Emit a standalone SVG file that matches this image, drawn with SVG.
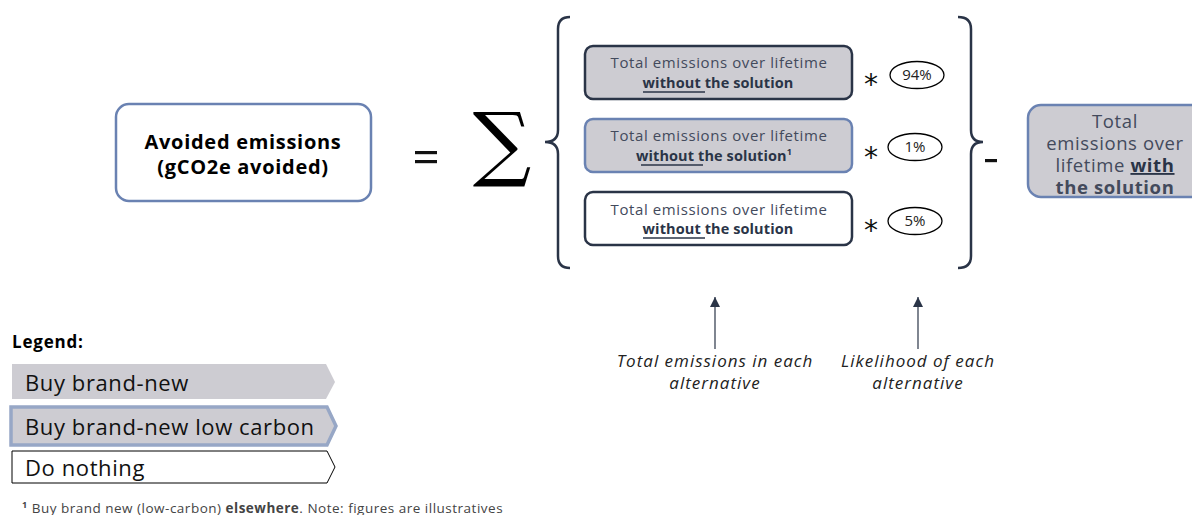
<svg xmlns="http://www.w3.org/2000/svg" width="1192" height="515" viewBox="0 0 1192 515">
<defs>
<style>
.t{font-family:"Open Sans","Liberation Sans",sans-serif;}
.box{fill:#cdccd2;stroke:#2a3447;stroke-width:2.5;}
.boxb{fill:#cdccd2;stroke:#6a82b2;stroke-width:2.5;}
.boxw{fill:#ffffff;stroke:#2a3447;stroke-width:2.5;}
.l1{font-family:"Open Sans","Liberation Sans",sans-serif;font-size:15px;letter-spacing:0.6px;fill:#434a5c;text-anchor:middle;}
.l2{font-family:"Open Sans","Liberation Sans",sans-serif;font-size:14.5px;letter-spacing:0.1px;font-weight:bold;fill:#2a3447;text-anchor:middle;}
.ul{stroke:#2a3447;stroke-width:1.5;}
.ell{fill:#fff;stroke:#000;stroke-width:1.3;}
.pct{font-family:"Open Sans","Liberation Sans",sans-serif;font-size:15px;fill:#222;text-anchor:middle;}
.star{font-family:"DejaVu Sans",sans-serif;font-size:28px;fill:#111;text-anchor:middle;}
.brace{fill:none;stroke:#2a3447;stroke-width:2.5;}
.cap{font-family:"Open Sans","Liberation Sans",sans-serif;font-size:17px;letter-spacing:1px;font-style:italic;fill:#222;text-anchor:middle;}
.leg{font-family:"Open Sans","Liberation Sans",sans-serif;font-size:22px;letter-spacing:0.6px;fill:#111;}
.rb{font-family:"Open Sans","Liberation Sans",sans-serif;font-size:18.5px;letter-spacing:0.6px;fill:#434a5c;text-anchor:middle;}
</style>
<marker id="ah" viewBox="0 0 10 10" refX="10" refY="5" markerWidth="10" markerHeight="10" markerUnits="userSpaceOnUse" orient="auto">
<path d="M0,0 L10,5 L0,10 Z" fill="#2a3447"/>
</marker>
</defs>
<rect width="1192" height="515" fill="#ffffff"/>

<g id="avoided">
<rect x="116" y="104" width="255" height="97" rx="13" fill="#fff" stroke="#6a82b2" stroke-width="2.5"/>
<text class="t" x="243" y="149" font-size="20" letter-spacing="0.7" font-weight="bold" fill="#000" text-anchor="middle">Avoided emissions</text>
<text class="t" x="243" y="174" font-size="20" letter-spacing="0.7" font-weight="bold" fill="#000" text-anchor="middle">(gCO2e avoided)</text>
</g>

<g id="equals">
<rect x="415" y="151" width="22" height="3.2" fill="#111"/>
<rect x="415" y="160" width="22" height="3.2" fill="#111"/>
</g>

<g id="sum">
<text x="502" y="171" font-family="DejaVu Serif, serif" font-size="82" font-weight="200" text-anchor="middle" fill="#000">∑</text>
</g>

<g id="braces">
<path class="brace" d="M570,17 Q558,17 558,29 L558,130 Q558,142 545,142 Q558,142 558,154 L558,256 Q558,268 570,268"/>
<path class="brace" d="M958,17 Q971,17 971,29 L971,130 Q971,142 983,142 Q971,142 971,154 L971,256 Q971,268 958,268"/>
</g>

<g id="alt1">
<rect class="box" x="585" y="46" width="267" height="53" rx="8"/>
<text class="l1" x="719" y="68">Total emissions over lifetime</text>
<text class="l2" x="718" y="88">without the solution</text>
<line class="ul" x1="643" y1="92" x2="705" y2="92"/>
<text class="star" x="871" y="94">*</text>
<ellipse class="ell" cx="917" cy="75" rx="27" ry="13.5"/>
<text class="pct" x="917" y="80">94%</text>
</g>

<g id="alt2">
<rect class="boxb" x="585" y="119" width="267" height="53" rx="8"/>
<text class="l1" x="719" y="141">Total emissions over lifetime</text>
<text class="l2" x="714" y="161">without the solution<tspan font-size="9" dy="-6">1</tspan></text>
<line class="ul" x1="641" y1="165" x2="703" y2="165"/>
<text class="star" x="871" y="167">*</text>
<ellipse class="ell" cx="915" cy="147" rx="27" ry="13.5"/>
<text class="pct" x="915" y="152">1%</text>
</g>

<g id="alt3">
<rect class="boxw" x="585" y="192" width="267" height="53" rx="8"/>
<text class="l1" x="719" y="215">Total emissions over lifetime</text>
<text class="l2" x="718" y="234">without the solution</text>
<line class="ul" x1="643" y1="238" x2="705" y2="238"/>
<text class="star" x="871" y="240">*</text>
<ellipse class="ell" cx="915" cy="221" rx="27" ry="13.5"/>
<text class="pct" x="915" y="226">5%</text>
</g>

<g id="minus">
<rect x="985" y="159" width="12" height="3.2" fill="#111"/>
</g>

<g id="with-solution">
<rect class="boxb" x="1028" y="105" width="176" height="92" rx="13"/>
<text class="rb" x="1115" y="128">Total</text>
<text class="rb" x="1115" y="150">emissions over</text>
<text class="rb" x="1115" y="172">lifetime <tspan font-weight="bold" fill="#2a3447" text-decoration="underline">with</tspan></text>
<text class="rb" x="1115" y="194" font-weight="bold" fill="#2a3447">the solution</text>
</g>

<g id="connectors">
<line x1="715" y1="349" x2="715" y2="297" stroke="#2a3447" stroke-width="1.2" marker-end="url(#ah)"/>
<line x1="918" y1="349" x2="918" y2="297" stroke="#2a3447" stroke-width="1.2" marker-end="url(#ah)"/>
</g>

<g id="caption1">
<text class="cap" x="715" y="367">Total emissions in each</text>
<text class="cap" x="715" y="389">alternative</text>
</g>
<g id="caption2">
<text class="cap" x="918" y="367">Likelihood of each</text>
<text class="cap" x="918" y="389">alternative</text>
</g>

<g id="legend">
<text class="t" x="12" y="348" font-size="17" letter-spacing="0.8" font-weight="bold" fill="#000">Legend:</text>
<g id="leg1">
<path d="M12,364 L326,364 L335,382 L326,399 L12,399 Z" fill="#cdccd2"/>
<text class="leg" x="25" y="391">Buy brand-new</text>
</g>
<g id="leg2">
<path d="M11,407 L327,407 L336,426 L327,445 L11,445 Z" fill="#cdccd2" stroke="#97a7c6" stroke-width="3.5"/>
<text class="leg" x="25" y="435">Buy brand-new low carbon</text>
</g>
<g id="leg3">
<path d="M12,451 L327,451 L335,467 L327,483 L12,483 Z" fill="#fff" stroke="#000" stroke-width="1"/>
<text class="leg" x="25" y="476">Do nothing</text>
</g>
</g>

<g id="footnote">
<text class="t" x="22" y="513" font-size="13.5" letter-spacing="0.5" fill="#444"><tspan font-size="9" dy="-5" font-weight="bold">1</tspan><tspan dy="5"> Buy brand new (low-carbon) </tspan><tspan font-weight="bold">elsewhere</tspan>. Note: figures are illustratives</text>
</g>
</svg>
